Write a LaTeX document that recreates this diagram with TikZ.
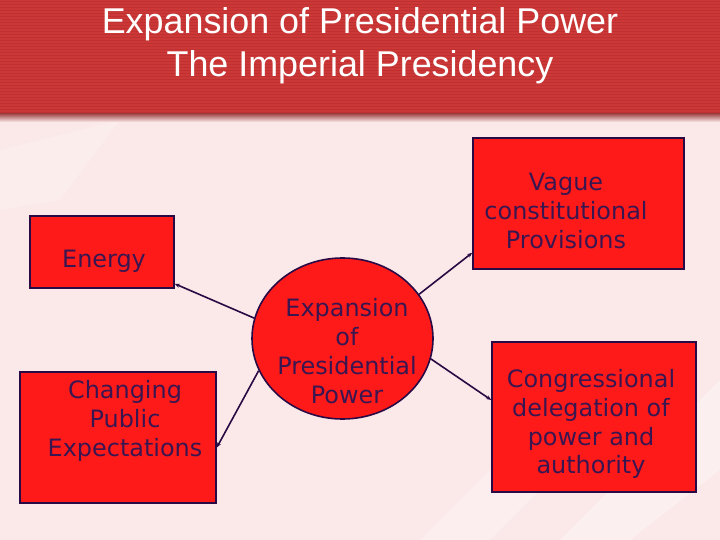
\documentclass[tikz,border=0pt]{standalone}
\usepackage{fontspec}
\setmainfont{DejaVu Sans}
\newfontfamily\titlefont{Liberation Sans}
\usetikzlibrary{shapes.geometric,arrows.meta}
\definecolor{bgpink}{HTML}{FBE8E8}
\definecolor{bgpale}{HTML}{FDF2F2}
\definecolor{banner}{HTML}{CC3838}
\definecolor{bannerdk}{HTML}{BF3030}
\definecolor{boxred}{HTML}{FF1A1A}
\definecolor{boxline}{HTML}{2A0A45}
\definecolor{txt}{HTML}{3A1650}
\tikzset{
  x=1bp, y=-1bp,
  boxnode/.style={draw=boxline, line width=1.6bp, fill=boxred, rectangle, inner sep=0pt},
  boxtext/.style={text=txt, font=\fontsize{24}{29}\selectfont, align=center, inner sep=0pt},
  link/.style={draw=boxline, line width=1.6bp, -{Stealth[length=5bp,width=4bp]}},
}
\begin{document}
\begin{tikzpicture}
\useasboundingbox (0,0) rectangle (720,540);
% background
\fill[bgpink] (0,0) rectangle (720,540);
\fill[bgpale, opacity=0.7] (560,540) -- (720,380) -- (720,470) -- (630,540) -- cycle;
\fill[bgpale, opacity=0.6] (420,540) -- (520,440) -- (560,470) -- (490,540) -- cycle;
\fill[bgpale, opacity=0.5] (0,150) -- (120,120) -- (60,200) -- (0,210) -- cycle;
% banner
\shade[top color=banner!70!black, bottom color=bgpink] (0,112) rectangle (720,122);
\fill[banner] (0,0) rectangle (720,113);
\foreach \yy in {1,4,...,112} \draw[bannerdk, line width=0.8bp] (0,\yy) -- (720,\yy);
\node[text=white, font=\titlefont\fontsize{36}{43}\selectfont, align=center, inner sep=0pt] (title) at (360,46) {Expansion of Presidential Power\\The Imperial Presidency};
% boxes
\node[boxnode, minimum width=144bp, minimum height=72bp] (energy) at (102,252) {};
\node[boxtext] (energyt) at (104,261) {Energy};
\node[boxnode, minimum width=196bp, minimum height=131bp] (chg) at (118,437.5) {};
\node[boxtext] (chgt) at (125,421) {Changing\\Public\\Expectations};
\node[boxnode, minimum width=211bp, minimum height=131bp] (vag) at (578.5,203.5) {};
\node[boxtext] (vagt) at (566,211) {Vague\\constitutional\\Provisions};
\node[boxnode, minimum width=204bp, minimum height=150bp] (cong) at (594,417) {};
\node[boxtext] (congt) at (591,424) {Congressional\\delegation of\\power and\\authority};
% center ellipse
\node[ellipse, draw=boxline, line width=1.6bp, fill=boxred, minimum width=181bp, minimum height=161bp, inner sep=0pt] (ctr) at (342.5,338.5) {};
\node[boxtext] (ctrt) at (347,351) {Expansion\\of\\Presidential\\Power};
% connectors
\draw[link] (ctr.167) -- ([yshift=5bp]energy.south east);
\draw[link] (ctr.201) -- ([yshift=-10bp]chg.east);
\draw[link] (ctr.30) -- ([yshift=17bp]vag.south west);
\draw[link] (ctr.-13) -- ([yshift=17bp]cong.west);
\end{tikzpicture}
\end{document}
